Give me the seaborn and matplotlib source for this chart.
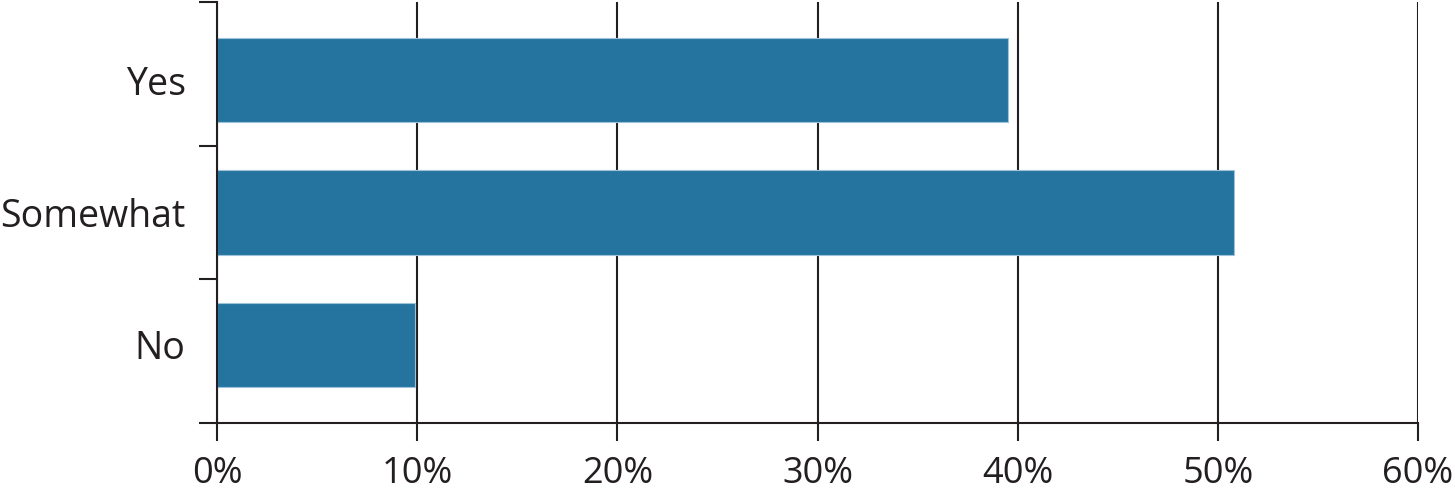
import matplotlib
matplotlib.use("Agg")
import matplotlib.pyplot as plt
import seaborn as sns
import pandas as pd
from matplotlib.ticker import FuncFormatter, FixedLocator

answers = ["Yes", "Somewhat", "No"]
shares = [39.5, 50.8, 9.9]
x_ticks = [0, 10, 20, 30, 40, 50, 60]

bar_color = "#2574a0"
line_color = "#231f20"

sns.set_style("white")
plt.rcParams["font.family"] = ["Open Sans", "DejaVu Sans"]

df = pd.DataFrame({"answer": answers, "share": shares})

fig = plt.figure(figsize=(14.55, 4.97), dpi=100)
ax = fig.add_axes([217 / 1455, 1 - 423 / 497, (1418 - 217) / 1455, (423 - 2) / 497])

sns.barplot(
    data=df,
    x="share",
    y="answer",
    orient="h",
    color=bar_color,
    saturation=1,
    width=0.64,
    edgecolor="#9cc3da",
    linewidth=0.8,
    ax=ax
)

ax.set_xlim(0, 60)
ax.set_ylim(2.589, -0.589)
ax.set_axisbelow(True)

ax.xaxis.set_major_locator(FixedLocator(x_ticks))
ax.xaxis.set_major_formatter(FuncFormatter(lambda v, _: f"{v:.0f}%"))
ax.grid(axis="x", color=line_color, linewidth=1.5)
ax.grid(axis="y", visible=False)

# category boundaries get tick marks, labels sit on minor ticks
ax.yaxis.set_major_locator(FixedLocator([-0.589, 0.5, 1.5, 2.589]))
ax.yaxis.set_major_formatter(FuncFormatter(lambda v, _: ""))
ax.yaxis.set_minor_locator(FixedLocator([0, 1, 2]))
ax.set_yticklabels(answers, minor=True)

ax.tick_params(axis="x", which="major", length=13, width=1.5, color=line_color,
               labelsize=26, pad=11, labelcolor=line_color, direction="out", bottom=True)
ax.tick_params(axis="y", which="major", length=13, width=1.5, color=line_color,
               direction="out", left=True)
ax.tick_params(axis="y", which="minor", length=0, labelsize=27, pad=22.5,
               labelcolor=line_color)

for side in ["top", "right"]:
    ax.spines[side].set_visible(False)
for side in ["left", "bottom"]:
    ax.spines[side].set_color(line_color)
    ax.spines[side].set_linewidth(1.5)

ax.set_xlabel("")
ax.set_ylabel("")

fig.savefig("out.png", dpi=100)
plt.close(fig)
